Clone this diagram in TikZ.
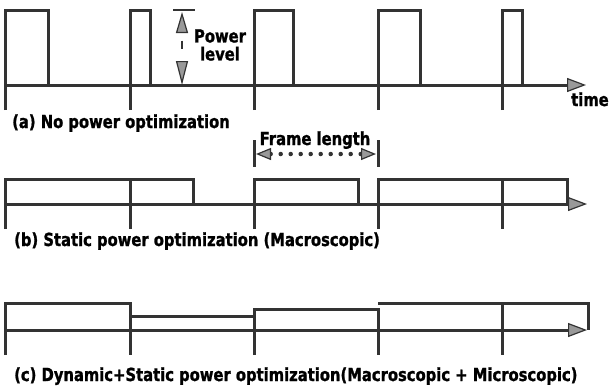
\documentclass[tikz,border=0pt]{standalone}
\usepackage{fontspec}
\setmainfont{DejaVu Sans}[FakeStretch=0.82, BoldFeatures={FakeBold=1.2}]
\usetikzlibrary{arrows.meta}
\tikzset{
  sig/.style={line width=3pt, draw=black!80, line join=miter},
  tickln/.style={line width=3pt, draw=black!80},
  axis/.style={line width=3pt, draw=black!80,
    -{Triangle[length=19pt,width=14pt,fill=black!40,line width=1.2pt]}},
  lbl/.style={font=\fontsize{18}{19}\selectfont\bfseries, inner sep=0pt, text=black},
  powarrow/.style={{Triangle[length=21pt,width=12pt,fill=black!40,line width=1.2pt]}-{Triangle[length=24pt,width=12pt,fill=black!40,line width=1.2pt]}},
  framearrow/.style={{Triangle[length=15pt,width=12pt,fill=black!40,line width=1.2pt,line cap=butt]}-{Triangle[length=15pt,width=12pt,fill=black!40,line width=1.2pt,line cap=butt]}}
}
\begin{document}
\begin{tikzpicture}[x=1pt,y=-1pt]
\useasboundingbox (0,0) rectangle (609,388);
% ---------- (a) ----------
\coordinate (a0) at (5,85);
\coordinate (aend) at (586,85);
\draw[axis] (a0) -- (aend);
\draw[sig] (5,110) -- (5,10) -- (48,10) -- (48,85);
\draw[sig] (130,110) -- (130,10) -- (150,10) -- (150,85);
\draw[sig] (254,110) -- (254,10) -- (293,10) -- (293,85);
\draw[sig] (378,110) -- (378,10) -- (420,10) -- (420,85);
\draw[sig] (502,110) -- (502,10) -- (522,10) -- (522,85);
% power level
\coordinate (pbl) at (173,10);
\coordinate (pbr) at (195,10);
\draw[sig, line width=2.4pt] (pbl) -- (pbr);
\coordinate (ptop) at (182,12);
\coordinate (pbot) at (182,85);
\draw[line width=2.4pt, draw=black!80, powarrow, dash pattern=on 0pt off 8pt on 8pt off 40pt] (ptop) -- (pbot);
\node[lbl, align=center] (power) at (220,45) {Power\\[-1pt]level};
\node[lbl, anchor=base] (time) at (590,106) {time};
\node[lbl, anchor=base west] (capa) at (12,128) {(a) No power optimization};
% ---------- frame length ----------
\coordinate (fl1t) at (254,140);
\coordinate (fl1b) at (254,167);
\coordinate (fl2t) at (378,140);
\coordinate (fl2b) at (378,167);
\draw[tickln] (fl1t) -- (fl1b);
\draw[tickln] (fl2t) -- (fl2b);
\coordinate (fla) at (256,154);
\coordinate (flb) at (376,154);
\draw[line width=4.5pt, draw=black!80, line cap=round, dash pattern=on 0pt off 10pt, framearrow] (fla) -- (flb);
\node[lbl, anchor=base] (frame) at (315,145) {Frame length};
% ---------- (b) ----------
\coordinate (b0) at (5,204);
\coordinate (bend) at (587,204);
\draw[axis] (b0) -- (bend);
\draw[sig] (5,229) -- (5,179) -- (193,179) -- (193,204);
\draw[sig] (254,229) -- (254,179) -- (358,179) -- (358,204);
\draw[sig] (378,229) -- (378,179) -- (567,179) -- (567,204);
\draw[tickln] (130,179) -- (130,229);
\draw[tickln] (502,179) -- (502,229);
\node[lbl, anchor=base west] (capb) at (14,246) {(b) Static power optimization (Macroscopic)};
% ---------- (c) ----------
\coordinate (c0) at (5,330);
\coordinate (cend) at (587,330);
\draw[sig] (5,355) -- (5,303) -- (130,303) -- (130,355);
\draw[sig] (130,316) -- (254,316);
\draw[sig] (254,355) -- (254,309) -- (378,309) -- (378,355);
\draw[sig] (378,303) -- (502,303) -- (502,355);
\draw[sig] (502,303) -- (588,303) -- (588,330);
\draw[axis] (c0) -- (cend);
\node[lbl, anchor=base west] (capc) at (14,381) {(c) Dynamic+Static power optimization(Macroscopic + Microscopic)};
\end{tikzpicture}
\end{document}
